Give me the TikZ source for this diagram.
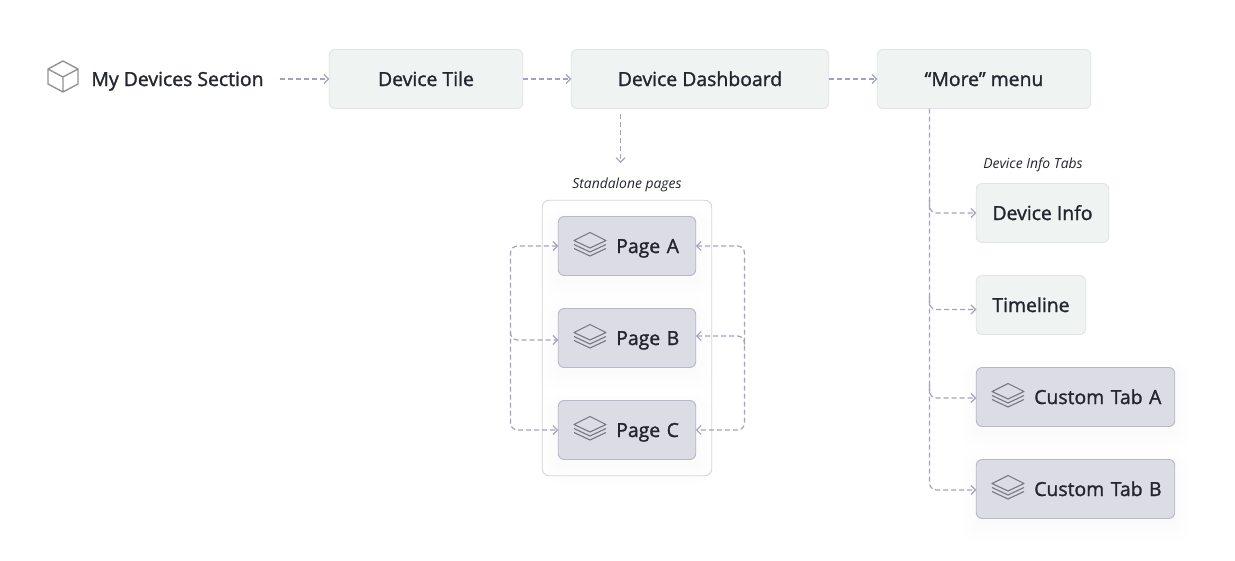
\documentclass[tikz,border=0pt]{standalone}
\usepackage{fontspec}
\setmainfont{Open Sans}[FakeBold=1.4]
\newfontfamily\capfont{Open Sans}
\usetikzlibrary{arrows.meta}
\definecolor{ink}{HTML}{23262F}
\definecolor{lightfill}{HTML}{EFF3F1}
\definecolor{lightedge}{HTML}{DFE4E6}
\definecolor{violetfill}{HTML}{DCDCE5}
\definecolor{violetedge}{HTML}{B8B6C9}
\definecolor{wire}{HTML}{A5A2BC}
\definecolor{iconline}{HTML}{77777F}
\tikzset{
  x=1pt,y=-1pt,
  box/.style={rounded corners=6pt,line width=.9pt,minimum height=59pt,inner sep=0pt,outer sep=0pt,
    text=ink,font=\fontsize{19.4}{24}\selectfont,text height=18pt,text depth=4pt,anchor=center},
  flowbox/.style={box,fill=lightfill,draw=lightedge},
  iconbox/.style={box,fill=violetfill,draw=violetedge,align=left,
    preaction={draw=black,draw opacity=.0025,line width=34pt,transform canvas={yshift=-8pt}},
    preaction={draw=black,draw opacity=.003,line width=24pt,transform canvas={yshift=-7pt}},
    preaction={draw=black,draw opacity=.004,line width=14pt,transform canvas={yshift=-6pt}},
    preaction={draw=black,draw opacity=.005,line width=6pt,transform canvas={yshift=-4pt}}},
  pagegroup/.style={rounded corners=7pt,draw=lightedge!70!violetedge,line width=.9pt,inner sep=0pt,outer sep=0pt},
  plaintext/.style={text=ink,font=\fontsize{19.4}{24}\selectfont,text height=18pt,text depth=4pt,inner sep=0pt,outer sep=0pt},
  caption/.style={text=ink,font=\capfont\itshape\fontsize{13.9}{16}\selectfont,text height=14.5pt,text depth=3pt,inner sep=0pt},
  wireline/.style={draw=wire,line width=1.2pt,dash pattern=on 5pt off 3pt,rounded corners=7pt,
    arrows={-Straight Barb[length=4.5pt,width=9pt,line width=1.1pt]}},
  bothends/.style={wireline,arrows={Straight Barb[length=4.5pt,width=9pt,line width=1.1pt]-Straight Barb[length=4.5pt,width=9pt,line width=1.1pt]}},
  layersicon/.pic={
    \draw[iconline,line width=1.1pt,line join=round]
      (0,0)--(16,8)--(0,15.5)--(-16,8)--cycle
      (-16,12)--(0,19.5)--(16,12)
      (-16,16)--(0,23.5)--(16,16);
  },
  cubeicon/.pic={
    \draw[gray!85,line width=1.4pt,line join=round]
      (63,61)--(78,69)--(78,84)--(63,92)--(48,84)--(48,69)--cycle
      (48,69)--(63,77)--(78,69) (63,77)--(63,92);
  }
}
\newcommand{\iconpad}[1]{\hspace*{#1pt}}
\begin{document}
\begin{tikzpicture}
\useasboundingbox[fill=white] (0,0) rectangle (1235,560);

% top row
\pic {cubeicon};
\node[plaintext,minimum width=205pt,minimum height=24pt] (sec) at (177.5,79) {My Devices Section};
\node[flowbox,minimum width=193.5pt] (tile) at (426,79) {Device Tile};
\node[flowbox,minimum width=257.5pt] (dash) at (700,79) {Device Dashboard};
\node[flowbox,minimum width=213.5pt] (more) at (984,79) {“More” menu};

% standalone pages
\node[caption] (standalone) at (627,183) {Standalone pages};
\node[pagegroup,minimum width=169.5pt,minimum height=275.5pt] (group) at (627,338) {};
\node[iconbox,minimum width=137.5pt,text width=137.5pt] (pa) at (627,246) {\iconpad{58}Page A};
\node[iconbox,minimum width=137.5pt,text width=137.5pt] (pb) at (627,338) {\iconpad{58}Page B};
\node[iconbox,minimum width=137.5pt,text width=137.5pt] (pc) at (627,430) {\iconpad{58}Page C};
\pic at (590,232.5) {layersicon};
\pic at (590,324.5) {layersicon};
\pic at (590,416.5) {layersicon};

% tabs
\node[caption] (tabs) at (1033,163) {Device Info Tabs};
\node[flowbox,minimum width=132.5pt] (info) at (1042.5,213) {Device Info};
\node[flowbox,minimum width=109.5pt] (time) at (1031,305) {Timeline};
\node[iconbox,minimum width=198.5pt,text width=198.5pt] (ca) at (1075.5,397) {\iconpad{58}Custom Tab A};
\node[iconbox,minimum width=198.5pt,text width=198.5pt] (cb) at (1075.5,489) {\iconpad{58}Custom Tab B};
\pic at (1008,383.5) {layersicon};
\pic at (1008,475.5) {layersicon};

% free ends
\coordinate (dashend) at (620.5,163);
\coordinate (morerail) at (929.5,400);
\coordinate (joinA) at (929.5,200);
\coordinate (joinB) at (929.5,297);
\coordinate (joinC) at (929.5,385);
\coordinate (railL) at (510.5,338);
\coordinate (railR) at (744.5,338);
\coordinate (joinL) at (510.5,332);
\coordinate (joinR) at (744.5,346);

% connectors
\draw[wireline] (sec.east) -- (tile.west);
\draw[wireline] (tile.east) -- (dash.west);
\draw[wireline] (dash.east) -- (more.west);
\draw[wireline,shorten <=5pt] (dashend |- dash.south) -- (dashend);

\draw[wireline] (morerail |- more.south) |- ([yshift=-1pt]cb.west);
\draw[wireline] (joinA) |- (info.west);
\draw[wireline] (joinB) |- ([yshift=-4.5pt]time.west);
\draw[wireline] (joinC) |- ([yshift=-1pt]ca.west);

\draw[bothends] (pa.west) -| (railL) |- (pc.west);
\draw[wireline] (joinL) |- ([yshift=-2pt]pb.west);
\draw[bothends] (pa.east) -| (railR) |- (pc.east);
\draw[wireline,arrows={Straight Barb[length=4.5pt,width=9pt,line width=1.1pt]-}] ([yshift=2pt]pb.east) -| (joinR);
\end{tikzpicture}
\end{document}
